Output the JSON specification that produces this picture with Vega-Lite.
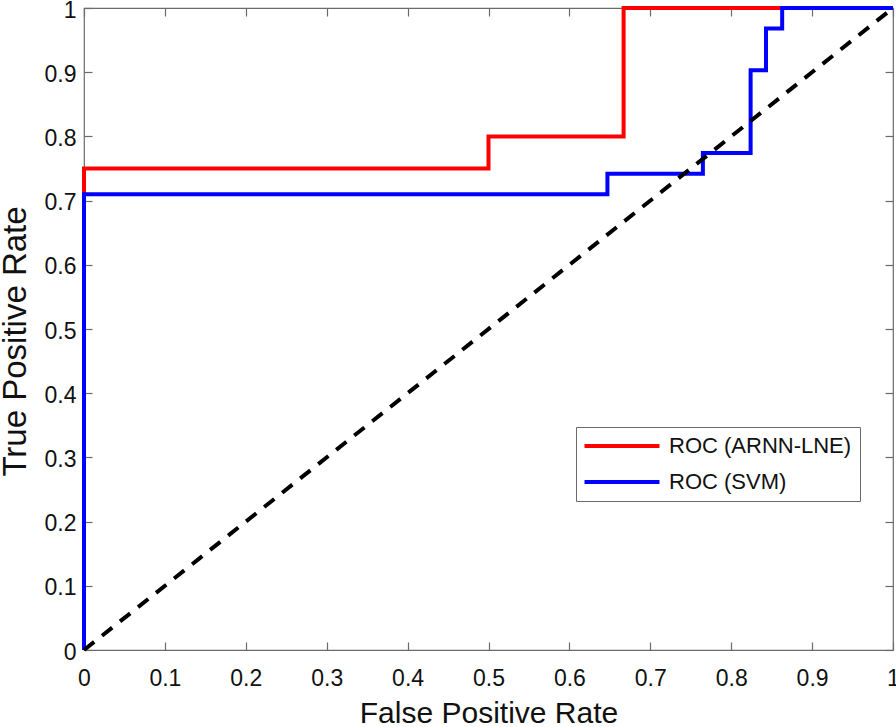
{
  "$schema": "https://vega.github.io/schema/vega-lite/v6.json",
  "width": 809,
  "height": 642,
  "autosize": {"type": "none"},
  "padding": {"left": 84, "top": 8, "right": 3, "bottom": 77},
  "background": "white",
  "config": {
    "view": {"stroke": "#6b6b6b", "strokeWidth": 1.2},
    "font": "Liberation Sans",
    "axis": {
      "grid": false,
      "domain": false,
      "tickSize": -8,
      "tickColor": "#6b6b6b",
      "tickWidth": 1.2,
      "labelFont": "Liberation Sans",
      "labelFontSize": 23,
      "labelColor": "#111",
      "labelFlush": false,
      "titleFont": "Liberation Sans",
      "titleFontWeight": "normal",
      "titleColor": "#111"
    }
  },
  "datasets": {
    "roc": [
      {"series": "ROC (ARNN-LNE)", "i": 0, "fpr": 0, "tpr": 0},
      {"series": "ROC (ARNN-LNE)", "i": 1, "fpr": 0, "tpr": 0.75},
      {"series": "ROC (ARNN-LNE)", "i": 2, "fpr": 0.5, "tpr": 0.75},
      {"series": "ROC (ARNN-LNE)", "i": 3, "fpr": 0.5, "tpr": 0.8},
      {"series": "ROC (ARNN-LNE)", "i": 4, "fpr": 0.667, "tpr": 0.8},
      {"series": "ROC (ARNN-LNE)", "i": 5, "fpr": 0.667, "tpr": 1},
      {"series": "ROC (ARNN-LNE)", "i": 6, "fpr": 1, "tpr": 1},
      {"series": "ROC (SVM)", "i": 0, "fpr": 0, "tpr": 0},
      {"series": "ROC (SVM)", "i": 1, "fpr": 0, "tpr": 0.71},
      {"series": "ROC (SVM)", "i": 2, "fpr": 0.647, "tpr": 0.71},
      {"series": "ROC (SVM)", "i": 3, "fpr": 0.647, "tpr": 0.742},
      {"series": "ROC (SVM)", "i": 4, "fpr": 0.765, "tpr": 0.742},
      {"series": "ROC (SVM)", "i": 5, "fpr": 0.765, "tpr": 0.774},
      {"series": "ROC (SVM)", "i": 6, "fpr": 0.824, "tpr": 0.774},
      {"series": "ROC (SVM)", "i": 7, "fpr": 0.824, "tpr": 0.903},
      {"series": "ROC (SVM)", "i": 8, "fpr": 0.843, "tpr": 0.903},
      {"series": "ROC (SVM)", "i": 9, "fpr": 0.843, "tpr": 0.968},
      {"series": "ROC (SVM)", "i": 10, "fpr": 0.863, "tpr": 0.968},
      {"series": "ROC (SVM)", "i": 11, "fpr": 0.863, "tpr": 1},
      {"series": "ROC (SVM)", "i": 12, "fpr": 1, "tpr": 1}
    ],
    "diag": [
      {"fpr": 0, "tpr": 0},
      {"fpr": 1, "tpr": 1}
    ]
  },
  "layer": [
    {
      "data": {"name": "roc"},
      "mark": {"type": "line", "strokeWidth": 4, "clip": false},
      "encoding": {
        "x": {
          "field": "fpr", "type": "quantitative",
          "scale": {"domain": [0, 1], "nice": false, "zero": false},
          "axis": {"title": "False Positive Rate", "values": [0,0.1,0.2,0.3,0.4,0.5,0.6,0.7,0.8,0.9,1], "labelExpr": "format(datum.value, '')", "labelPadding": 25, "titleFontSize": 30, "titleBaseline": "alphabetic", "titleY": 72}
        },
        "y": {
          "field": "tpr", "type": "quantitative",
          "scale": {"domain": [0, 1], "nice": false, "zero": false},
          "axis": {"title": "True Positive Rate", "values": [0,0.1,0.2,0.3,0.4,0.5,0.6,0.7,0.8,0.9,1], "labelExpr": "format(datum.value, '')", "labelPadding": 16, "labelOffset": 2, "titleFontSize": 33, "titleBaseline": "alphabetic", "titleAngle": -90, "titleX": -59, "titleY": 333, "titleAlign": "center"}
        },
        "order": {"field": "i", "type": "quantitative"},
        "color": {
          "field": "series", "type": "nominal",
          "scale": {"domain": ["ROC (ARNN-LNE)", "ROC (SVM)"], "range": ["#ff0000", "#0000ff"]},
          "legend": {
            "title": null,
            "orient": "none",
            "legendX": 492,
            "legendY": 419,
            "symbolType": "M-5,0H5",
            "symbolSize": 225,
            "symbolStrokeWidth": 4,
            "symbolOffset": 27,
            "labelFont": "Liberation Sans",
            "labelFontSize": 22,
            "labelLimit": 0,
            "labelColor": "#111",
            "strokeColor": "#6b6b6b",
            "fillColor": "white",
            "padding": 8,
            "rowPadding": 14,
            "labelOffset": 36
          }
        }
      }
    },
    {
      "data": {"name": "diag"},
      "mark": {"type": "line", "strokeWidth": 4, "color": "black", "strokeDash": [13, 10]},
      "encoding": {
        "x": {"field": "fpr", "type": "quantitative", "axis": null},
        "y": {"field": "tpr", "type": "quantitative", "axis": null}
      }
    },
    {
      "data": {"name": "diag"},
      "mark": {"type": "point", "opacity": 0},
      "encoding": {
        "x": {"field": "fpr", "type": "quantitative", "axis": {"orient": "top", "labels": false, "title": null, "values": [0,0.1,0.2,0.3,0.4,0.5,0.6,0.7,0.8,0.9,1]}},
        "y": {"field": "tpr", "type": "quantitative", "axis": {"orient": "right", "labels": false, "title": null, "values": [0,0.1,0.2,0.3,0.4,0.5,0.6,0.7,0.8,0.9,1]}}
      }
    }
  ],
  "resolve": {"axis": {"x": "independent", "y": "independent"}}
}
